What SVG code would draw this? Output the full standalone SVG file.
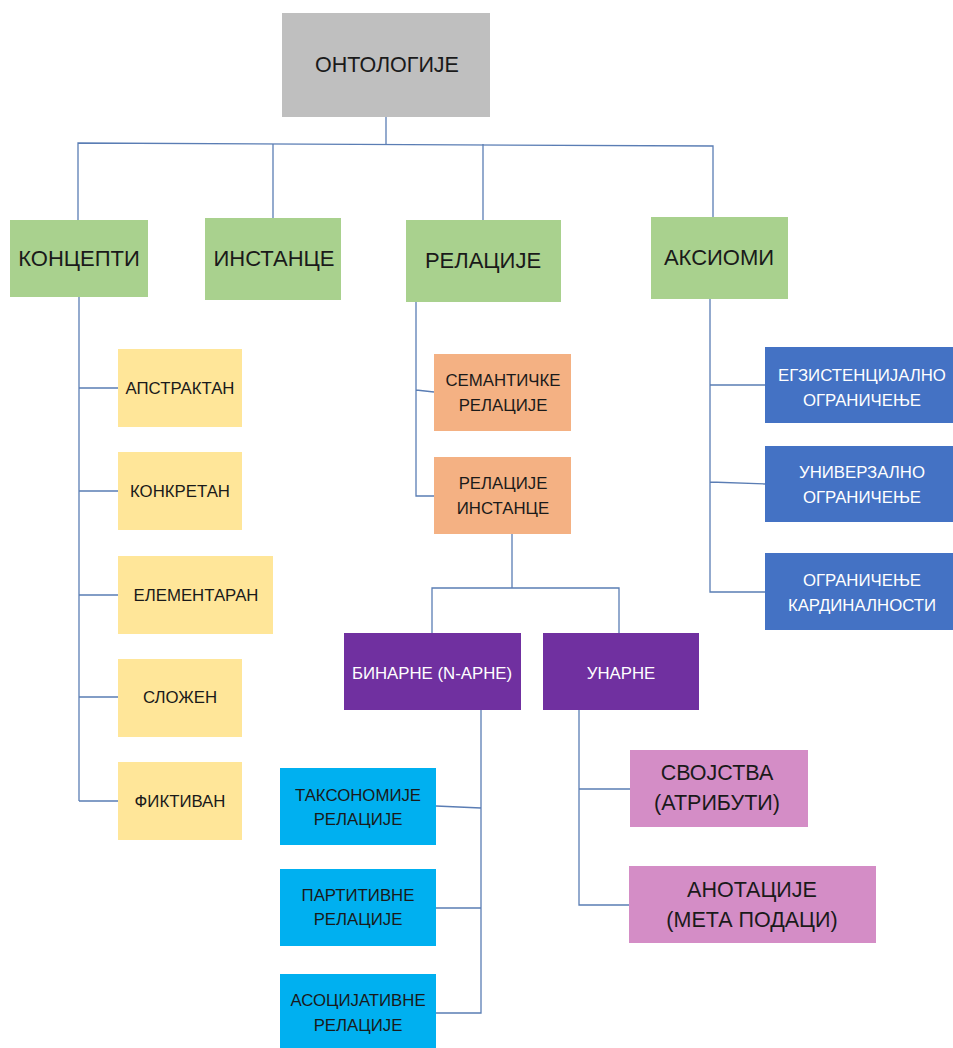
<svg xmlns="http://www.w3.org/2000/svg" width="953" height="1048" viewBox="0 0 953 1048">
  <style>
    text { font-family: "Liberation Sans", Arial, sans-serif; text-anchor: middle; dominant-baseline: central; fill: #1a1a1a; }
    .t20 { font-size: 21.5px; }
    .t22 { font-size: 22px; }
    .t16 { font-size: 16.8px; }
    .t19 { font-size: 21.5px; }
    .w { fill: #ffffff; }
    .root { fill: #bfbfbf; }
    .green { fill: #a9d18e; }
    .yellow { fill: #ffe699; }
    .orange { fill: #f4b183; }
    .blue { fill: #4472c4; }
    .purple { fill: #7030a0; }
    .cyan { fill: #00b0f0; }
    .pink { fill: #d48dc6; }
    #connectors path { fill: none; stroke: #5a7db4; stroke-width: 1.3; }
  </style>
  <rect width="953" height="1048" fill="#ffffff"/>

  <g id="connectors">
    <!-- root to level 1 -->
    <path d="M386 117 V145"/>
    <path d="M78 220 V143 L713 146 V217"/>
    <path d="M273 144 V218"/>
    <path d="M483 144 V220"/>
    <!-- concepts -->
    <path d="M79 297 V801"/>
    <path d="M79 388 H118 M79 491 H118 M79 595 H118 M79 697 H118 M79 801 H118"/>
    <!-- relations -->
    <path d="M416 302 V496 H434 M416 390 L434 392"/>
    <path d="M512 534 V588 M432 633 V588 H619 V633"/>
    <!-- axioms -->
    <path d="M710 299 V592 H765 M710 385 H765 M710 482 L765 484"/>
    <!-- binary -->
    <path d="M481 710 V1013 H436 M481 908 H436 M436 806 L481 808"/>
    <!-- unary -->
    <path d="M579 710 V905 H630 M579 789 H630"/>
  </g>

  <g id="ontologije">
    <rect class="root" x="282" y="13" width="208" height="104"/>
    <text class="t20" x="387" y="65">ОНТОЛОГИЈЕ</text>
  </g>

  <g id="koncepti">
    <rect class="green" x="10" y="220" width="138" height="77"/>
    <text class="t22" x="79" y="258">КОНЦЕПТИ</text>
  </g>
  <g id="instance">
    <rect class="green" x="205" y="218" width="136" height="82"/>
    <text class="t22" x="274" y="258">ИНСТАНЦЕ</text>
  </g>
  <g id="relacije">
    <rect class="green" x="406" y="220" width="155" height="82"/>
    <text class="t22" x="483" y="260">РЕЛАЦИЈЕ</text>
  </g>
  <g id="aksiomi">
    <rect class="green" x="651" y="217" width="137" height="82"/>
    <text class="t22" x="719" y="257">АКСИОМИ</text>
  </g>

  <g id="apstraktan">
    <rect class="yellow" x="118" y="349" width="124" height="78"/>
    <text class="t16" x="180" y="388">АПСТРАКТАН</text>
  </g>
  <g id="konkretan">
    <rect class="yellow" x="118" y="452" width="124" height="78"/>
    <text class="t16" x="180" y="491">КОНКРЕТАН</text>
  </g>
  <g id="elementaran">
    <rect class="yellow" x="118" y="556" width="155" height="78"/>
    <text class="t16" x="196" y="595">ЕЛЕМЕНТАРАН</text>
  </g>
  <g id="slozen">
    <rect class="yellow" x="118" y="659" width="124" height="78"/>
    <text class="t16" x="180" y="697">СЛОЖЕН</text>
  </g>
  <g id="fiktivan">
    <rect class="yellow" x="118" y="762" width="124" height="78"/>
    <text class="t16" x="180" y="801">ФИКТИВАН</text>
  </g>

  <g id="semanticke-relacije">
    <rect class="orange" x="434" y="354" width="137" height="77"/>
    <text class="t16" x="503" y="380">СЕМАНТИЧКЕ</text>
    <text class="t16" x="503" y="405">РЕЛАЦИЈЕ</text>
  </g>
  <g id="relacije-instance">
    <rect class="orange" x="434" y="457" width="137" height="77"/>
    <text class="t16" x="503" y="483">РЕЛАЦИЈЕ</text>
    <text class="t16" x="503" y="508">ИНСТАНЦЕ</text>
  </g>

  <g id="egzistencijalno">
    <rect class="blue" x="765" y="347" width="188" height="76"/>
    <text class="t16 w" x="862" y="375">ЕГЗИСТЕНЦИЈАЛНО</text>
    <text class="t16 w" x="862" y="400">ОГРАНИЧЕЊЕ</text>
  </g>
  <g id="univerzalno">
    <rect class="blue" x="765" y="446" width="188" height="76"/>
    <text class="t16 w" x="862" y="472">УНИВЕРЗАЛНО</text>
    <text class="t16 w" x="862" y="497">ОГРАНИЧЕЊЕ</text>
  </g>
  <g id="kardinalnost">
    <rect class="blue" x="765" y="553" width="188" height="77"/>
    <text class="t16 w" x="862" y="580">ОГРАНИЧЕЊЕ</text>
    <text class="t16 w" x="862" y="605">КАРДИНАЛНОСТИ</text>
  </g>

  <g id="binarne">
    <rect class="purple" x="344" y="633" width="177" height="77"/>
    <text class="t16 w" x="432" y="673">БИНАРНЕ (N-АРНЕ)</text>
  </g>
  <g id="unarne">
    <rect class="purple" x="543" y="633" width="156" height="77"/>
    <text class="t16 w" x="621" y="673">УНАРНЕ</text>
  </g>

  <g id="taksonomije">
    <rect class="cyan" x="280" y="768" width="156" height="77"/>
    <text class="t16" x="358" y="795">ТАКСОНОМИЈЕ</text>
    <text class="t16" x="358" y="819">РЕЛАЦИЈЕ</text>
  </g>
  <g id="partitivne">
    <rect class="cyan" x="280" y="869" width="156" height="77"/>
    <text class="t16" x="358" y="895">ПАРТИТИВНЕ</text>
    <text class="t16" x="358" y="919">РЕЛАЦИЈЕ</text>
  </g>
  <g id="asocijativne">
    <rect class="cyan" x="280" y="974" width="156" height="80"/>
    <text class="t16" x="358" y="1000">АСОЦИЈАТИВНЕ</text>
    <text class="t16" x="358" y="1025">РЕЛАЦИЈЕ</text>
  </g>

  <g id="svojstva">
    <rect class="pink" x="630" y="750" width="178" height="77"/>
    <text class="t19" x="717" y="773">СВОЈСТВА</text>
    <text class="t19" x="717" y="803">(АТРИБУТИ)</text>
  </g>
  <g id="anotacije">
    <rect class="pink" x="629" y="866" width="247" height="77"/>
    <text class="t19" x="752" y="890">АНОТАЦИЈЕ</text>
    <text class="t19" x="752" y="920">(МЕТА ПОДАЦИ)</text>
  </g>
</svg>
